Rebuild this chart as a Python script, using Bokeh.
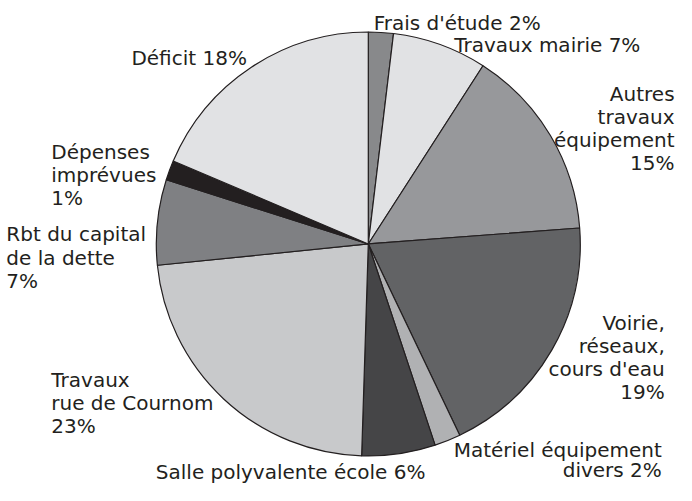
import numpy as np
from bokeh.plotting import figure
from bokeh.models import Range1d, ColumnDataSource
from bokeh.embed import file_html
from bokeh.resources import INLINE
from bokeh.core.properties import value

# ---- data ----
categories = ["Frais d'étude", "Travaux mairie", "Autres travaux équipement",
              "Voirie, réseaux, cours d'eau", "Matériel équipement divers",
              "Salle polyvalente école", "Travaux rue de Cournom",
              "Rbt du capital de la dette", "Dépenses imprévues", "Déficit"]
shares = [1.9, 7.2, 14.7, 19.1, 2.0, 5.6, 22.9, 6.5, 1.5, 18.6]
label_texts = ["Frais d'étude 2%", "Travaux mairie 7%",
               "Autres\ntravaux\néquipement\n15%",
               "Voirie,\nréseaux,\ncours d'eau\n19%",
               "Matériel équipement\ndivers 2%",
               "Salle polyvalente école 6%",
               "Travaux\nrue de Cournom\n23%",
               "Rbt du capital\nde la dette\n7%",
               "Dépenses\nimprévues\n1%",
               "Déficit 18%"]

# ---- styles / layout ----
colors = ["#88898b", "#e1e2e4", "#97989b", "#626365", "#b0b1b3",
          "#454547", "#c8c9cb", "#7f8083", "#231f20", "#e1e2e4"]
# label anchor (x, first-baseline y in image pixels from top, align, line step)
label_layout = [(382, 29, "left", 24), (655, 52, "right", 24),
                (690, 102, "right", 24), (680, 338, "right", 24),
                (677, 469, "right", 21), (159, 492, "left", 24),
                (52, 397, "left", 24), (6, 247, "left", 24),
                (52, 162, "left", 24), (134, 65, "left", 24)]
H = 501
cx, cy, R = 376.5, H - 257, 217

p = figure(width=676, height=485, output_backend="svg", toolbar_location=None,
           x_range=Range1d(0, 692), y_range=Range1d(-5, 495),
           min_border=0, outline_line_color=None)
p.axis.visible = False
p.grid.visible = False
p.background_fill_color = "white"

frac = np.array(shares) / sum(shares)
cum = np.concatenate([[0], np.cumsum(frac)])
start = np.pi / 2 - cum[:-1] * 2 * np.pi
end = np.pi / 2 - cum[1:] * 2 * np.pi

src = ColumnDataSource(dict(cat=categories, start=start, end=end, color=colors))
p.wedge(x=cx, y=cy, radius=R, start_angle="start", end_angle="end",
        direction="clock", fill_color="color", line_color="#231f20",
        line_width=1.2, source=src)

xs, ys, ts, al = [], [], [], []
for txt, (lx, ly, a, step) in zip(label_texts, label_layout):
    for i, line in enumerate(txt.split("\n")):
        xs.append(lx)
        ys.append(H - (ly + i * step))
        ts.append(line)
        al.append(a)
tsrc = ColumnDataSource(dict(x=xs, y=ys, t=ts, a=al))
p.text(x="x", y="y", text="t", text_align="a", text_baseline="alphabetic",
       text_font=value("DejaVu Sans"), text_font_size="20px",
       text_color="#231f20", source=tsrc)

open("out.html", "w").write(file_html(p, INLINE))
